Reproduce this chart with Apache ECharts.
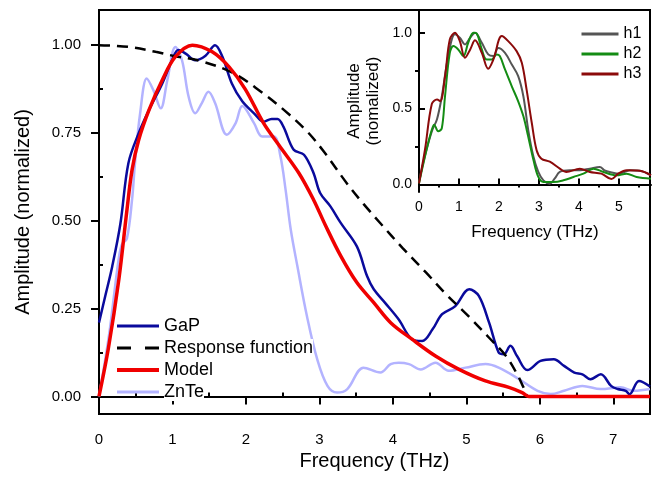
<!DOCTYPE html>
<html>
<head>
<meta charset="utf-8">
<script src="https://cdn.jsdelivr.net/npm/echarts@6/dist/echarts.min.js"></script>
<style>
  html, body { margin: 0; padding: 0; background: #fff; }
  #main { width: 663px; height: 480px; }
</style>
</head>
<body>
<div id="main"></div>
<script>
// main panel: [frequency THz, amplitude]
const gap = [[0,0.21],[0.09,0.29],[0.18,0.37],[0.29,0.49],[0.4,0.664],[0.54,0.749],[0.68,0.815],[0.86,0.89],[1.0,0.96],[1.08,0.986],[1.18,0.976],[1.31,0.957],[1.45,0.97],[1.58,1.0],[1.68,0.967],[1.81,0.89],[1.95,0.84],[2.11,0.806],[2.24,0.782],[2.35,0.79],[2.43,0.79],[2.51,0.768],[2.65,0.702],[2.79,0.688],[2.92,0.636],[3.01,0.579],[3.15,0.541],[3.29,0.494],[3.51,0.427],[3.65,0.342],[3.74,0.305],[3.9,0.265],[4.08,0.219],[4.26,0.163],[4.4,0.158],[4.54,0.191],[4.67,0.234],[4.85,0.257],[5.04,0.305],[5.17,0.286],[5.31,0.21],[5.44,0.125],[5.51,0.12],[5.6,0.144],[5.69,0.115],[5.83,0.075],[6.01,0.101],[6.19,0.106],[6.33,0.087],[6.47,0.068],[6.58,0.063],[6.69,0.049],[6.83,0.063],[6.97,0.03],[7.06,0.021],[7.17,0.016],[7.22,0.006],[7.35,0.044],[7.5,0.028]];
const response = [[0,1.0],[0.4,0.995],[0.77,0.981],[1.0,0.97],[1.38,0.955],[1.83,0.92],[2.2,0.868],[2.52,0.815],[2.83,0.755],[3.06,0.697],[3.38,0.605],[3.6,0.548],[3.83,0.493],[4.13,0.423],[4.45,0.353],[4.72,0.292],[5.04,0.226],[5.31,0.167],[5.54,0.115],[5.7,0.06],[5.78,0.025],[5.85,0],[7.5,0]];
const model = [[0,0],[0.13,0.14],[0.27,0.333],[0.38,0.53],[0.45,0.645],[0.54,0.73],[0.68,0.815],[0.86,0.9],[1.04,0.967],[1.27,1.0],[1.54,0.981],[1.77,0.938],[1.99,0.875],[2.24,0.778],[2.45,0.715],[2.72,0.636],[2.92,0.56],[3.08,0.488],[3.29,0.4],[3.51,0.324],[3.74,0.267],[3.97,0.21],[4.26,0.163],[4.58,0.115],[4.9,0.077],[5.26,0.044],[5.58,0.026],[5.76,0.011],[5.85,0],[7.5,0]];
const znte = [[0,0],[0.14,0.18],[0.26,0.38],[0.31,0.432],[0.38,0.45],[0.45,0.56],[0.49,0.664],[0.56,0.806],[0.65,0.905],[0.74,0.872],[0.84,0.82],[0.93,0.9],[1.04,0.995],[1.13,0.957],[1.22,0.853],[1.31,0.806],[1.4,0.835],[1.49,0.867],[1.58,0.835],[1.74,0.745],[1.86,0.778],[1.95,0.827],[2.11,0.778],[2.22,0.74],[2.38,0.74],[2.47,0.683],[2.54,0.588],[2.61,0.475],[2.7,0.371],[2.83,0.229],[2.97,0.106],[3.11,0.03],[3.24,0.011],[3.38,0.021],[3.6,0.082],[3.83,0.068],[3.97,0.092],[4.08,0.096],[4.22,0.092],[4.38,0.077],[4.58,0.096],[4.76,0.073],[4.99,0.082],[5.26,0.092],[5.44,0.082],[5.72,0.049],[5.97,0.016],[6.15,0.007],[6.33,0.016],[6.58,0.03],[6.83,0.021],[7.1,0.026],[7.28,0.016],[7.5,0.021]];

// inset
const h1 = [[0,0.017],[0.15,0.19],[0.32,0.35],[0.45,0.43],[0.57,0.58],[0.73,0.846],[0.9,0.99],[1.02,0.967],[1.15,0.923],[1.28,0.967],[1.4,1.0],[1.57,0.934],[1.73,0.857],[1.86,0.846],[1.98,0.9],[2.15,0.868],[2.32,0.79],[2.48,0.714],[2.61,0.58],[2.73,0.36],[2.86,0.184],[2.98,0.085],[3.11,0.027],[3.27,0.005],[3.39,0.038],[3.52,0.082],[3.77,0.093],[4.02,0.093],[4.27,0.104],[4.52,0.115],[4.64,0.093],[4.77,0.082],[5.02,0.071],[5.27,0.093],[5.52,0.09],[5.8,0.06]];
const h2 = [[0,0.007],[0.19,0.23],[0.32,0.36],[0.38,0.394],[0.48,0.35],[0.57,0.37],[0.65,0.58],[0.77,0.868],[0.86,0.912],[0.98,0.89],[1.11,0.846],[1.23,0.934],[1.36,1.0],[1.44,0.996],[1.57,0.89],[1.69,0.824],[1.82,0.824],[1.94,0.857],[2.02,0.846],[2.15,0.758],[2.32,0.647],[2.48,0.548],[2.61,0.449],[2.73,0.316],[2.86,0.162],[2.98,0.051],[3.11,0.016],[3.36,0.016],[3.61,0.027],[3.86,0.049],[4.11,0.071],[4.36,0.104],[4.61,0.082],[4.94,0.06],[5.19,0.071],[5.44,0.049],[5.8,0.038]];
const h3 = [[0,0.007],[0.15,0.23],[0.32,0.53],[0.45,0.56],[0.53,0.55],[0.65,0.71],[0.77,0.956],[0.9,1.0],[1.02,0.945],[1.15,0.835],[1.28,0.89],[1.4,0.95],[1.57,0.868],[1.73,0.763],[1.86,0.824],[2.07,0.978],[2.23,0.945],[2.44,0.879],[2.57,0.802],[2.69,0.625],[2.82,0.405],[2.94,0.226],[3.06,0.17],[3.27,0.15],[3.52,0.104],[3.68,0.082],[4.02,0.104],[4.27,0.082],[4.56,0.071],[4.81,0.035],[4.98,0.071],[5.19,0.093],[5.52,0.09],[5.8,0.06]];

// ticks
const mainXTicks = [0, 1, 2, 3, 4, 5, 6, 7];
const mainXMinor = [0.5, 1.5, 2.5, 3.5, 4.5, 5.5, 6.5];
const mainYTicks = [0, 0.25, 0.5, 0.75, 1.0];
const mainYMinor = [0.125, 0.375, 0.625, 0.875];
const insetXTicks = [0, 1, 2, 3, 4, 5];
const insetXMinor = [0.5, 1.5, 2.5, 3.5, 4.5, 5.5];
const insetYTicks = [0, 0.5, 1.0];
const insetYMinor = [0.25, 0.75];

const FONT = 'Liberation Sans, Arial, sans-serif';

function axisX(grid, min, max, ticks, len, inside, labels, extra) {
  return Object.assign({
    type: 'value', gridIndex: grid, min: min, max: max,
    axisLine: { show: labels, lineStyle: { color: '#000', width: 2 } },
    axisTick: { show: true, customValues: ticks, length: len, inside: inside, lineStyle: { color: '#000', width: 2 } },
    axisLabel: { show: labels, customValues: ticks, color: '#000', fontFamily: FONT },
    splitLine: { show: false }
  }, extra || {});
}

function line(name, data, color, width, x, y, dashed) {
  return {
    name: name, type: 'line', data: data, xAxisIndex: x, yAxisIndex: y,
    smooth: 0.35, symbol: 'none', z: 3,
    lineStyle: { color: color, width: width, type: dashed ? [11, 7] : 'solid' },
    itemStyle: { color: color }
  };
}

const chart = echarts.init(document.getElementById('main'));
const option = {
  animation: false,
  textStyle: { fontFamily: FONT },
  grid: [
    { left: 99, top: 10, width: 551, height: 404, show: true, borderColor: '#000', borderWidth: 2, backgroundColor: 'transparent' },
    { left: 419, top: 10, width: 232, height: 182 }
  ],
  legend: [
    {
      data: [
        { name: 'GaP', lineStyle: { width: 3 } },
        { name: 'Response function', lineStyle: { width: 3, type: [14, 14] } },
        { name: 'Model', lineStyle: { width: 4 } },
        { name: 'ZnTe', lineStyle: { width: 3 } }
      ],
      orient: 'vertical', left: 110, top: 312, itemWidth: 42, itemHeight: 12, itemGap: 4,
      itemStyle: { opacity: 0 },
      textStyle: { fontSize: 18, color: '#000', fontFamily: FONT, backgroundColor: '#fff' }
    },
    {
      data: [
        { name: 'h1', lineStyle: { width: 3 } },
        { name: 'h2', lineStyle: { width: 3 } },
        { name: 'h3', lineStyle: { width: 3 } }
      ],
      orient: 'vertical', left: 575, top: 21, itemWidth: 37, itemHeight: 12, itemGap: 4,
      itemStyle: { opacity: 0 },
      textStyle: { fontSize: 16, color: '#000', fontFamily: FONT }
    }
  ],
  xAxis: [
    axisX(0, 0, 7.5, mainXTicks, 8, false, true, {
      name: 'Frequency (THz)', nameLocation: 'middle', nameGap: 36,
      nameTextStyle: { fontSize: 20, color: '#000', fontFamily: FONT },
      axisLabel: { customValues: mainXTicks, color: '#000', fontSize: 15, margin: 18, fontFamily: FONT }
    }),
    axisX(0, 0, 7.5, mainXMinor, 4, false, false),
    axisX(1, 0, 5.8, insetXTicks, 6, true, true, {
      name: 'Frequency (THz)', nameLocation: 'middle', nameGap: 32,
      nameTextStyle: { fontSize: 17, color: '#000', fontFamily: FONT },
      axisLabel: { customValues: insetXTicks, color: '#000', fontSize: 14, margin: 8, fontFamily: FONT }
    }),
    axisX(1, 0, 5.8, insetXMinor, 3, true, false)
  ],
  yAxis: [
    axisX(0, -0.05, 1.1, mainYTicks, 8, false, true, {
      name: 'Amplitude (normalized)', nameLocation: 'middle', nameGap: 66,
      nameTextStyle: { fontSize: 20, color: '#000', fontFamily: FONT },
      axisLabel: { customValues: mainYTicks, color: '#000', fontSize: 15, margin: 18, fontFamily: FONT,
        formatter: v => v.toFixed(2) }
    }),
    axisX(0, -0.05, 1.1, mainYMinor, 4, false, false),
    axisX(1, -0.05, 1.15, insetYTicks, 6, true, true, {
      name: 'Amplitude\n(nomalized)', nameLocation: 'middle', nameGap: 36,
      nameTextStyle: { fontSize: 17, color: '#000', fontFamily: FONT, lineHeight: 19 },
      axisLabel: { customValues: insetYTicks, color: '#000', fontSize: 14, margin: 7, fontFamily: FONT,
        formatter: v => v.toFixed(1) }
    }),
    axisX(1, -0.05, 1.15, insetYMinor, 4, true, false)
  ],
  series: [
    line('GaP', gap, '#0a0a9c', 2.5, 0, 0),
    line('Response function', response, '#000', 2.5, 0, 0, true),
    line('Model', model, '#f00000', 3.5, 0, 0),
    line('ZnTe', znte, '#b3b3ff', 2.5, 0, 0),
    line('h1', h1, '#555555', 2, 2, 2),
    line('h2', h2, '#148c14', 2, 2, 2),
    line('h3', h3, '#8b0a0a', 2, 2, 2)
  ]
};
// ZnTe sits under the other curves
option.series[3].z = 2;
chart.setOption(option);
</script>
</body>
</html>
